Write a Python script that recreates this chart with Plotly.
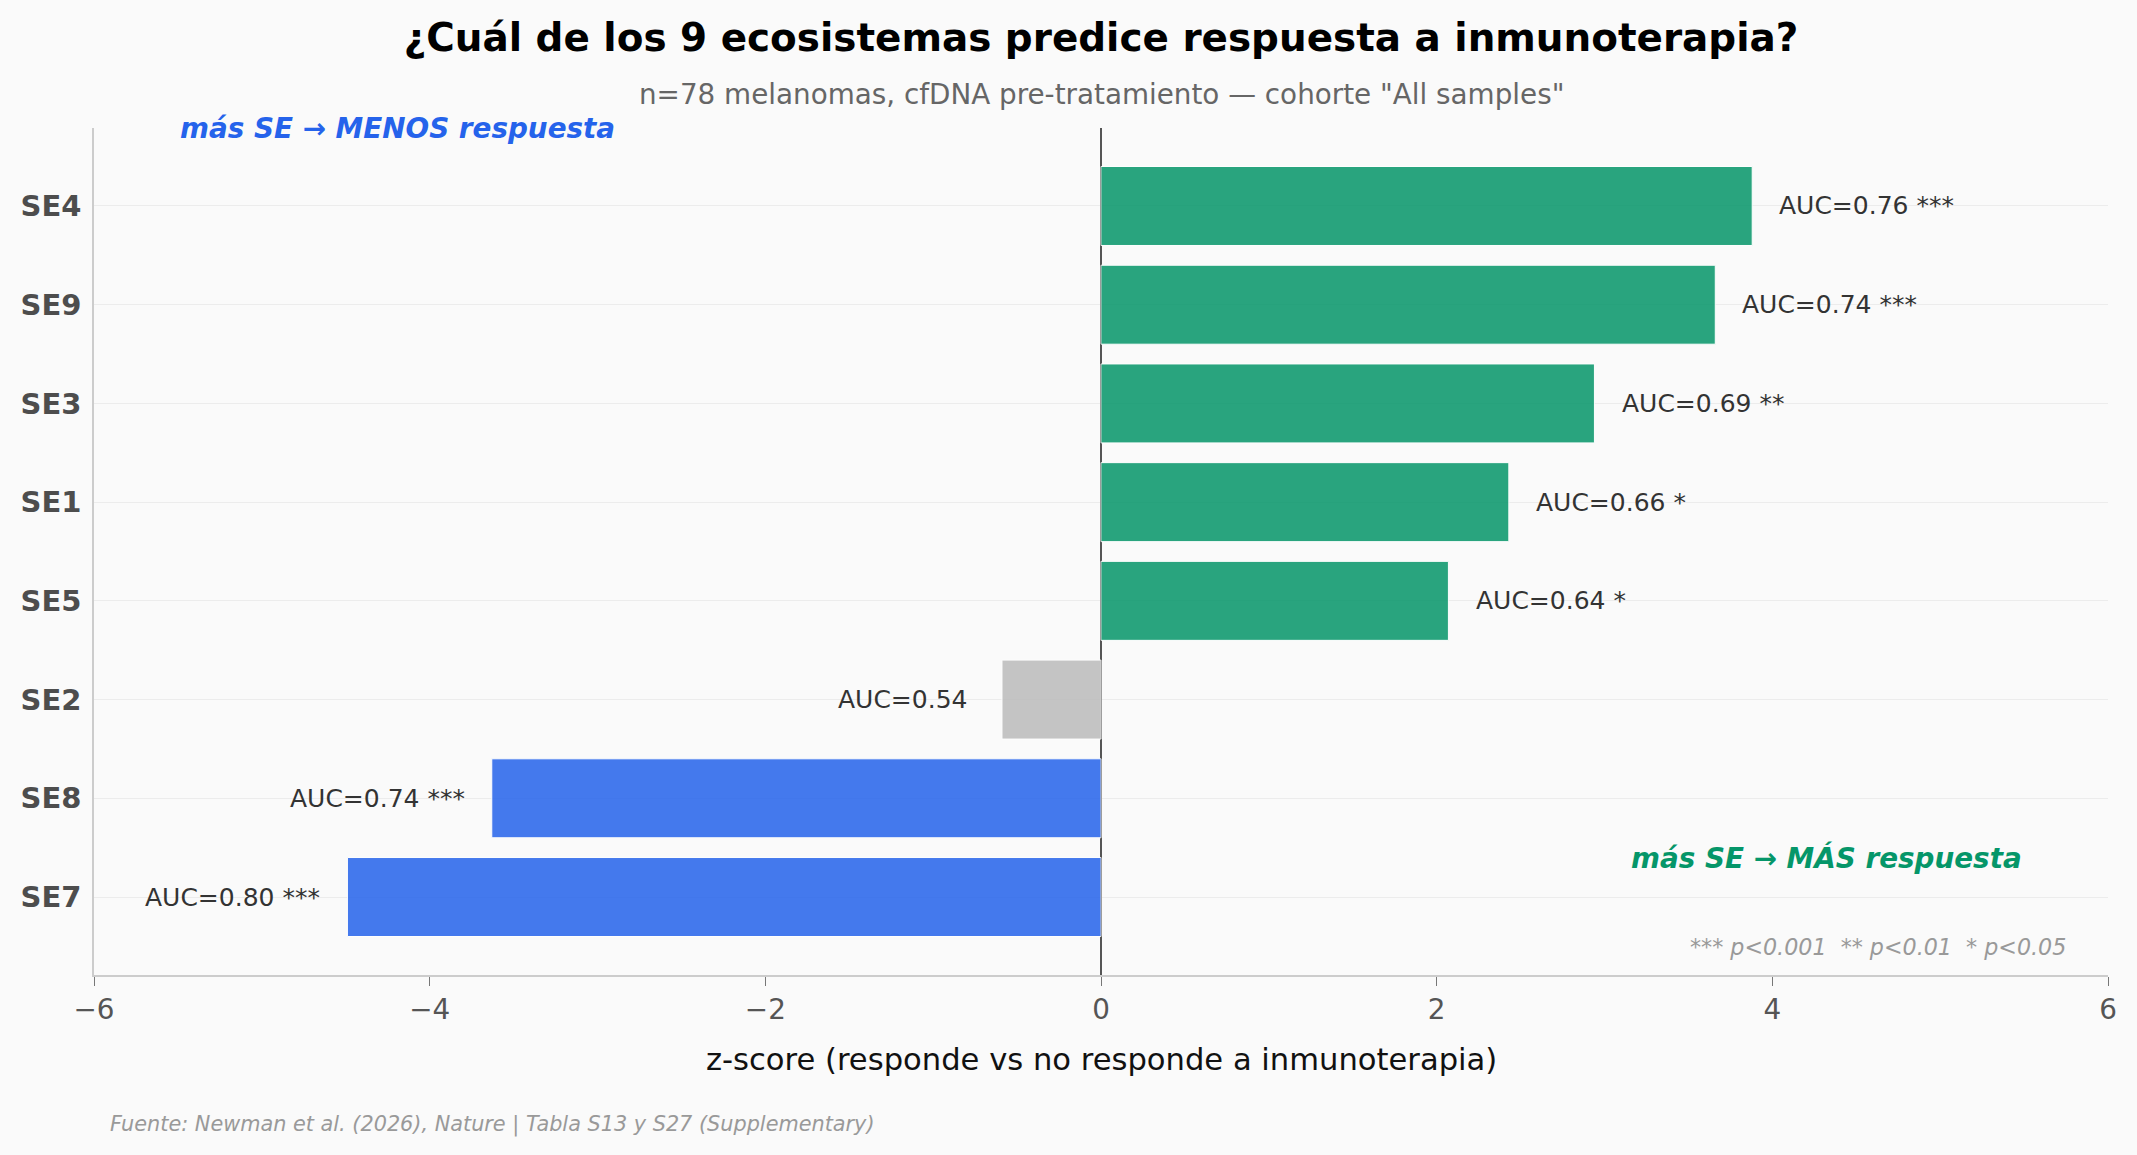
import plotly.graph_objects as go

# ---- data (top to bottom as displayed) ----
ecosystems = ["SE4", "SE9", "SE3", "SE1", "SE5", "SE2", "SE8", "SE7"]
z_scores = [3.88, 3.66, 2.94, 2.43, 2.07, -0.59, -3.63, -4.49]
auc_values = [0.76, 0.74, 0.69, 0.66, 0.64, 0.54, 0.74, 0.80]
significance = ["***", "***", "**", "*", "*", "", "***", "***"]
x_ticks = [-6, -4, -2, 0, 2, 4, 6]

GREEN = "#059669"
BLUE = "#2563EB"
GRAY = "#bbbbbb"
BG = "#fafafa"
FONT = "DejaVu Sans"

colors = []
for z, s in zip(z_scores, significance):
    if s == "":
        colors.append(GRAY)
    elif z > 0:
        colors.append(GREEN)
    else:
        colors.append(BLUE)

fig = go.Figure()
fig.add_trace(go.Bar(
    y=ecosystems, x=z_scores, orientation="h", width=0.8,
    marker=dict(color=colors, opacity=0.85, line=dict(color="white", width=1)),
    hoverinfo="skip", showlegend=False,
))

annotations = []
for name, z, a, s in zip(ecosystems, z_scores, auc_values, significance):
    label = f"AUC={a:.2f}\u00a0{s}"
    annotations.append(dict(
        x=z + (0.15 if z >= 0 else -0.15), y=name, xref="x", yref="y",
        text=label, showarrow=False,
        xanchor="left" if z >= 0 else "right", yanchor="middle",
        font=dict(family=FONT, size=25, color="#333333"),
    ))

annotations += [
    dict(x=0.5, y=1.039, xref="paper", yref="paper", showarrow=False,
         text='n=78 melanomas, cfDNA pre-tratamiento — cohorte "All samples"',
         xanchor="center", yanchor="middle",
         font=dict(family=FONT, size=27.8, color="#666666")),
    dict(x=-5.5, y=1.0, xref="x", yref="paper", showarrow=False,
         text="más SE → MENOS respuesta", xanchor="left", yanchor="middle",
         font=dict(family=FONT, size=27.8, color=BLUE, weight="bold", style="italic")),
    dict(x=5.5, y=0.4, xref="x", yref="y", showarrow=False,
         text="más SE → MÁS respuesta", xanchor="right", yanchor="middle",
         font=dict(family=FONT, size=27.8, color=GREEN, weight="bold", style="italic")),
    dict(x=0.98, y=0.033, xref="paper", yref="paper", showarrow=False,
         text="*** p<0.001 \u00a0** p<0.01 \u00a0* p<0.05", xanchor="right", yanchor="middle",
         font=dict(family=FONT, size=22.2, color="#999999", style="italic")),
    dict(x=0.5, y=-0.100, xref="paper", yref="paper", showarrow=False,
         text="z-score (responde vs no responde a inmunoterapia)",
         xanchor="center", yanchor="middle",
         font=dict(family=FONT, size=30.6, color="#111111")),
    dict(x=0.0068, y=-0.176, xref="paper", yref="paper", showarrow=False,
         text="Fuente: Newman et al. (2026), Nature | Tabla S13 y S27 (Supplementary)",
         xanchor="left", yanchor="middle",
         font=dict(family=FONT, size=20.8, color="#999999", style="italic")),
]

fig.update_layout(
    width=2137, height=1155,
    paper_bgcolor=BG, plot_bgcolor=BG,
    margin=dict(l=94, r=29, t=128, b=180, autoexpand=False),
    title=dict(text="¿Cuál de los 9 ecosistemas predice respuesta a inmunoterapia?",
               x=0.5, xref="paper", y=1 - 37 / 1155, yref="container",
               xanchor="center", yanchor="middle",
               font=dict(family=FONT, size=38.9, color="#000000", weight="bold")),
    annotations=annotations,
    xaxis=dict(range=[-6, 6], tickvals=x_ticks, showgrid=False,
               zeroline=True, zerolinecolor="#555555", zerolinewidth=2,
               showline=True, linecolor="#cccccc", linewidth=1.6,
               ticks="outside", ticklen=9, tickwidth=1.3, tickcolor="#777777",
               tickfont=dict(family=FONT, size=27.8, color="#555555")),
    yaxis=dict(type="category", categoryorder="array", categoryarray=ecosystems[::-1],
               range=[-0.79, 7.79], showgrid=True, gridcolor="#ececec", gridwidth=1.3,
               zeroline=False, showline=True, linecolor="#cccccc", linewidth=1.6,
               ticks="", ticklabelstandoff=5,
               tickfont=dict(family=FONT, size=29, color="#4d4d4d", weight="bold")),
)

fig.write_html("out.html", config={"displayModeBar": False})
